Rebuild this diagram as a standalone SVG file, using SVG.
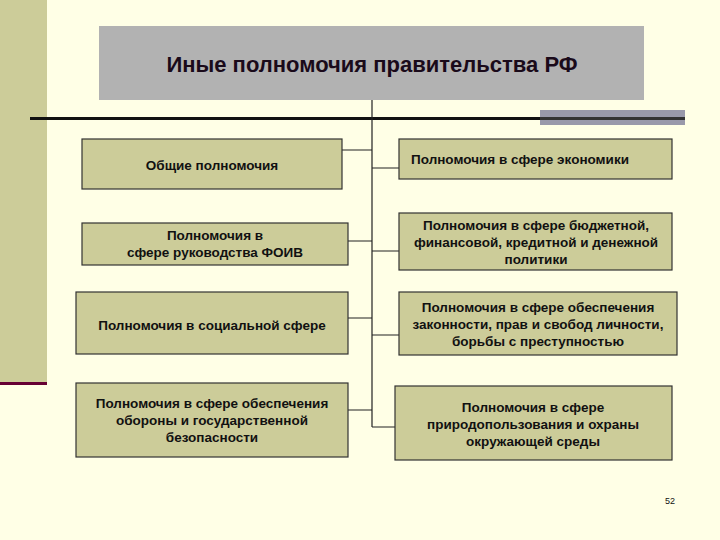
<svg xmlns="http://www.w3.org/2000/svg" width="720" height="540" viewBox="0 0 720 540">
<style>
.b{fill:#cccc99;stroke:#333;stroke-width:1.2}
text{font-family:"Liberation Sans",Arial,sans-serif;font-weight:bold;font-size:13.5px;fill:#111;text-anchor:middle}
.c{stroke:#222;stroke-width:1.2;fill:none}
</style>
<rect width="720" height="540" fill="#ffffe6"/>
<rect x="0" y="0" width="47" height="383" fill="#cccc99"/>
<rect x="0" y="382" width="47" height="3" fill="#660033"/>
<g id="title"><rect x="99" y="26" width="545" height="74" fill="#b2b2b2"/>
<text x="372" y="72" style="font-size:22px;fill:#1a0a1a">Иные полномочия правительства РФ</text></g>
<rect x="30" y="117" width="655" height="3" fill="#111"/>
<rect x="540" y="110" width="145" height="15" fill="#9999aa"/>
<rect x="540" y="117" width="145" height="3" fill="#333"/>
<g id="connectors">
<path class="c" d="M372 100V427M342 150H372M372 168H399M348 241H372M372 251H399M348 318H372M372 335H399M348 410H372M372 427H395"/>
</g>
<g id="l1"><rect class="b" x="82" y="139" width="260" height="50"/><text x="212" y="170">Общие полномочия</text></g>
<g id="l2"><rect class="b" x="82" y="223" width="266" height="42"/><text x="215" y="240">Полномочия  в</text><text x="215" y="257">сфере руководства ФОИВ</text></g>
<g id="l3"><rect class="b" x="76" y="292" width="272" height="62"/><text x="212" y="330">Полномочия в социальной сфере</text></g>
<g id="l4"><rect class="b" x="76" y="383" width="272" height="74"/><text x="212" y="408">Полномочия  в сфере обеспечения</text><text x="212" y="425">обороны и государственной</text><text x="212" y="442">безопасности</text></g>
<g id="r1"><rect class="b" x="399" y="139" width="273" height="40"/><text x="520" y="164">Полномочия в сфере экономики</text></g>
<g id="r2"><rect class="b" x="399" y="213" width="273" height="57"/><text x="536" y="230">Полномочия  в сфере бюджетной,</text><text x="536" y="247">финансовой, кредитной и денежной</text><text x="536" y="264">политики</text></g>
<g id="r3"><rect class="b" x="399" y="292" width="278" height="63"/><text x="538" y="312">Полномочия  в сфере обеспечения</text><text x="538" y="329">законности, прав и свобод личности,</text><text x="538" y="346">борьбы с преступностью</text></g>
<g id="r4"><rect class="b" x="395" y="386" width="277" height="74"/><text x="533" y="412">Полномочия  в сфере</text><text x="533" y="429">природопользования и охраны</text><text x="533" y="446">окружающей среды</text></g>
<text x="670" y="504" style="font-weight:normal;font-size:9px">52</text>
</svg>
